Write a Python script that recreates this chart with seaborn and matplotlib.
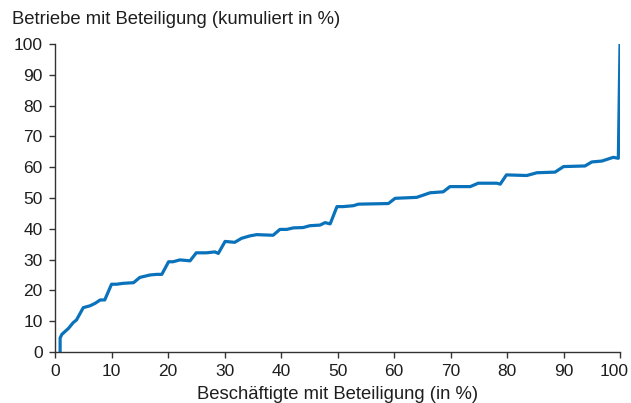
import matplotlib
matplotlib.use("Agg")
import matplotlib.pyplot as plt
import matplotlib.transforms as mtransforms
import seaborn as sns
import pandas as pd

# Data
beschaeftigte = [0.9, 0.9, 1.2, 2.4, 3.2, 3.8, 5.0, 6.2, 7.1, 8.0, 8.8, 10.0, 10.9, 12.1, 13.9,
                 15.0, 16.8, 18.0, 18.9, 20.1, 20.9, 22.1, 23.9, 25.0, 26.8, 28.3, 28.9, 30.1,
                 31.8, 33.0, 34.5, 35.7, 38.6, 39.8, 41.0, 42.2, 43.9, 45.1, 46.9, 47.8, 48.7,
                 49.9, 51.0, 52.8, 53.7, 59.0, 60.2, 64.0, 66.4, 68.7, 69.9, 73.5, 74.9, 78.2,
                 78.8, 79.9, 83.5, 85.3, 88.5, 90.0, 93.8, 95.0, 96.8, 98.8, 99.7, 100.0]
betriebe = [0.0, 4.5, 5.7, 7.7, 9.5, 10.4, 14.4, 15.0, 15.8, 16.9, 16.9, 22.0, 22.0, 22.3, 22.5,
            24.2, 25.0, 25.2, 25.2, 29.3, 29.3, 29.9, 29.6, 32.2, 32.2, 32.5, 32.0, 35.9,
            35.6, 36.9, 37.7, 38.1, 37.9, 39.8, 39.8, 40.3, 40.4, 41.0, 41.2, 42.0, 41.6,
            47.2, 47.2, 47.5, 48.0, 48.2, 49.9, 50.2, 51.7, 52.0, 53.7, 53.7, 54.8, 54.8,
            54.5, 57.5, 57.3, 58.2, 58.4, 60.2, 60.4, 61.7, 62.0, 63.2, 62.9, 100.0]
x_ticks = [0, 10, 20, 30, 40, 50, 60, 70, 80, 90, 100]
y_ticks = [0, 10, 20, 30, 40, 50, 60, 70, 80, 90, 100]

df = pd.DataFrame({"x": beschaeftigte, "y": betriebe})

sns.set_theme(style="ticks")
plt.rcParams["font.family"] = ["Liberation Sans", "DejaVu Sans"]

fig = plt.figure(figsize=(6.31, 4.03), dpi=100)
ax = fig.add_axes([0.0872, 0.1266, 0.8954, 0.7642])

sns.lineplot(data=df, x="x", y="y", ax=ax, color="#0a72ba", linewidth=2.3,
             sort=False, estimator=None)

ax.set_xlim(0, 100)
ax.set_ylim(0, 100)
ax.set_xticks(x_ticks)
ax.set_yticks(y_ticks)
ax.set_xticklabels([str(t) for t in x_ticks], fontsize=12.5, color="#1e1e1e")
ax.set_yticklabels([str(t) for t in y_ticks], fontsize=12.5, color="#1e1e1e")
ax.tick_params(axis="y", direction="out", length=4, width=1, color="#333333", pad=5)
ax.tick_params(axis="x", direction="out", length=4, width=1, color="#333333", pad=5)
# keep the last x tick label inside the canvas
last = ax.get_xticklabels()[-1]
last.set_transform(last.get_transform() + mtransforms.ScaledTranslation(-6 / 100, 0, fig.dpi_scale_trans))
for s in ["top", "right"]:
    ax.spines[s].set_visible(False)
for s in ["left", "bottom"]:
    ax.spines[s].set_color("#333333")
    ax.spines[s].set_linewidth(1)
ax.set_xlabel("Beschäftigte mit Beteiligung (in %)", fontsize=13.3, color="#1e1e1e", labelpad=5)
ax.set_ylabel("")
fig.text(12 / 631, 1 - 19 / 403, "Betriebe mit Beteiligung (kumuliert in %)", fontsize=13.3,
         color="#1e1e1e", ha="left", va="center")

fig.savefig("out.png", dpi=100)
